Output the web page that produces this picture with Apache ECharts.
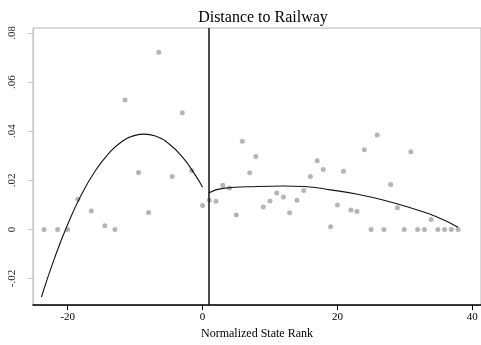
<!DOCTYPE html>
<html>
<head>
<meta charset="utf-8">
<script src="https://cdn.jsdelivr.net/npm/echarts@6/dist/echarts.min.js"></script>
<style>
  html, body { margin: 0; padding: 0; background: #fff; }
  #chart { width: 481px; height: 345px; }
</style>
</head>
<body>
<div id="chart"></div>
<script>
// binned means
const binX = [-23.5, -21.5, -20, -18.5, -16.5, -14.5, -13, -11.5, -9.5, -8, -6.5, -4.5, -3, -1.6, 0,
  1, 2, 3, 4, 5, 5.9, 7, 7.9, 9, 10, 11, 12, 12.9, 14, 15, 16, 17, 17.9, 19, 20, 20.9, 22, 22.9,
  24, 25, 25.9, 26.9, 27.9, 28.9, 29.9, 30.9, 31.9, 32.9, 33.9, 34.9, 35.9, 36.9, 37.9];
const binY = [0, 0, 0, 0.0123, 0.0075, 0.0015, 0, 0.0527, 0.0232, 0.0069, 0.0721, 0.0216, 0.0475, 0.0239, 0.0097,
  0.0119, 0.0115, 0.018, 0.0169, 0.0059, 0.0359, 0.0231, 0.0297, 0.0091, 0.0116, 0.0148, 0.0132, 0.0068, 0.0119, 0.0159, 0.0215, 0.028, 0.0244, 0.0011, 0.0099, 0.0237, 0.0079, 0.0073,
  0.0324, 0, 0.0384, 0, 0.0183, 0.0088, 0, 0.0316, 0, 0, 0.004, 0, 0, 0, 0];

// fitted curves, left and right of the cutoff
const fitLeftX = [-23.9, -22, -20, -18, -16, -14, -12, -10, -8.7, -7, -5, -3, -1, 0];
const fitLeftY = [-0.0275, -0.012, 0.0021, 0.014, 0.0235, 0.0307, 0.0357, 0.0383, 0.0388, 0.038, 0.0349, 0.0295, 0.0218, 0.0172];
const fitRightX = [0.9, 3, 8.2, 12, 15.1, 19, 23, 26.9, 30.8, 34.7, 37.9];
const fitRightY = [0.0148, 0.0167, 0.0175, 0.0177, 0.0175, 0.0161, 0.0143, 0.0119, 0.0088, 0.0052, 0.0009];

const cutoff = 0.9;
const xTicks = [-20, 0, 20, 40];
const yTicks = [-0.02, 0, 0.02, 0.04, 0.06, 0.08];
const yTickLabels = ['-.02', '0', '.02', '.04', '.06', '.08'];

const serif = '"Liberation Serif", "DejaVu Serif", serif';
const chart = echarts.init(document.getElementById('chart'));

chart.setOption({
  animation: false,
  title: {
    text: 'Distance to Railway',
    left: 258,
    textAlign: 'center',
    top: 5,
    textStyle: { fontFamily: serif, fontSize: 16, fontWeight: 'normal', color: '#000' },
  },
  grid: { left: 33, right: -4, top: 28, bottom: 35, show: true, borderColor: '#b4b4b4', borderWidth: 1 },
  xAxis: {
    type: 'value',
    min: -25.15,
    max: 41.3,
    name: 'Normalized State Rank',
    nameLocation: 'middle',
    nameGap: 20,
    nameTextStyle: { fontFamily: serif, fontSize: 12, color: '#000' },
    axisLine: { onZero: false, lineStyle: { color: '#000', width: 1.5 } },
    axisTick: { customValues: xTicks, length: 5, lineStyle: { color: '#000' } },
    axisLabel: { customValues: xTicks, margin: 7, fontFamily: serif, fontSize: 11, color: '#000' },
    splitLine: { show: false },
  },
  yAxis: {
    type: 'value',
    min: -0.0308,
    max: 0.082,
    axisLine: { show: true, onZero: false, lineStyle: { color: '#c8c8c8' } },
    axisTick: { show: true, customValues: yTicks, length: 5, lineStyle: { color: '#c8c8c8' } },
    axisLabel: {
      customValues: yTicks,
      rotate: 90,
      margin: 15,
      fontFamily: serif,
      fontSize: 11,
      color: '#222',
      formatter: (v) => yTickLabels[yTicks.findIndex((t) => Math.abs(t - v) < 1e-9)] ?? '',
    },
    splitLine: { show: false },
  },
  series: [
    {
      type: 'scatter',
      symbolSize: 5,
      itemStyle: { color: '#a2a2a2' },
      data: binX.map((x, i) => [x, binY[i]]),
      markLine: {
        silent: true,
        symbol: 'none',
        label: { show: false },
        lineStyle: { color: '#111', width: 1.5, type: 'solid' },
        data: [{ xAxis: cutoff }],
      },
      z: 2,
    },
    {
      type: 'line',
      smooth: true,
      showSymbol: false,
      lineStyle: { color: '#111', width: 1.1 },
      data: fitLeftX.map((x, i) => [x, fitLeftY[i]]),
      z: 3,
    },
    {
      type: 'line',
      smooth: true,
      showSymbol: false,
      lineStyle: { color: '#111', width: 1.1 },
      data: fitRightX.map((x, i) => [x, fitRightY[i]]),
      z: 3,
    },
  ],
});
</script>
</body>
</html>
